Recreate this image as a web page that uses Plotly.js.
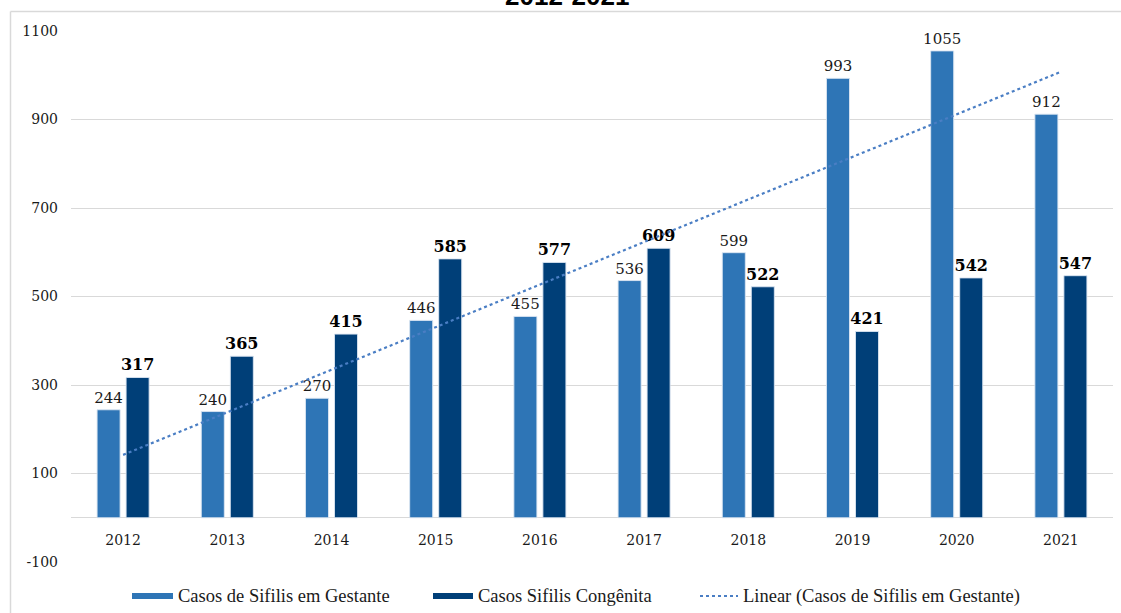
<!DOCTYPE html>
<html>
<head>
<meta charset="utf-8">
<script src="https://cdn.plot.ly/plotly-3.0.1.min.js"></script>
<style>
html,body{margin:0;padding:0;background:#fff;overflow:hidden;}
#chart{width:1121px;height:613px;}
</style>
</head>
<body>
<div id="chart"></div>
<script>
// ---- data ----
const years = ["2012","2013","2014","2015","2016","2017","2018","2019","2020","2021"];
const gestante = [244, 240, 270, 446, 455, 536, 599, 993, 1055, 912];
const congenita = [317, 365, 415, 585, 577, 609, 522, 421, 542, 547];
const seriesNames = ["Casos de Sifilis em Gestante", "Casos Sifilis Congênita", "Linear (Casos de Sifilis em Gestante)"];
const titleText = "2012-2021";
const yTicks = [-100, 100, 300, 500, 700, 900, 1100];

// Linear trendline (least squares) of the gestante series, as the chart's "Linear" trendline
const n = gestante.length;
const xs = gestante.map((_, i) => i + 1);
const mx = xs.reduce((a, b) => a + b, 0) / n;
const my = gestante.reduce((a, b) => a + b, 0) / n;
let sxy = 0, sxx = 0;
for (let i = 0; i < n; i++) { sxy += (xs[i] - mx) * (gestante[i] - my); sxx += (xs[i] - mx) ** 2; }
const slope = sxy / sxx, intercept = my - slope * mx;
const trend = xs.map(x => intercept + slope * x);

// ---- styles ----
const C_LIGHT = "#2E75B6", C_DARK = "#003F78", C_TREND = "#4A7EC4";
const SERIF = "DejaVu Serif, Georgia, serif";
const LEG = "Liberation Serif, Times New Roman, serif";

// pixel -> paper helpers (plot area: x 71..1113, y 31..562)
const L = 71, R = 8, T = 31, B = 51, W = 1121, H = 613;
const pw = W - L - R, ph = H - T - B;
const px = x => (x - L) / pw;
const py = y => (H - B - y) / ph;

const traces = [
  {
    type: "bar", x: years, y: gestante, name: seriesNames[0],
    marker: {color: C_LIGHT, line: {color: "rgba(220,230,242,0.9)", width: 1}},
    text: gestante.map(String), textposition: "outside", cliponaxis: false,
    constraintext: "none",
    textfont: {family: SERIF, size: 15, color: "#1a1a1a"},
    hoverinfo: "x+y"
  },
  {
    type: "bar", x: years, y: congenita, name: seriesNames[1],
    marker: {color: C_DARK, line: {color: "rgba(220,230,242,0.9)", width: 1}},
    text: congenita.map(String), textposition: "outside", cliponaxis: false,
    constraintext: "none",
    textfont: {family: SERIF, size: 16, color: "#000", weight: "bold"},
    hoverinfo: "x+y"
  },
  {
    type: "scatter", mode: "lines", x: years, y: trend, name: seriesNames[2],
    line: {color: C_TREND, width: 2.2, dash: "dot"},
    hoverinfo: "skip"
  }
];

const legY = 596;
const shapes = [
  // chart frame lines
  {type: "line", xref: "paper", yref: "paper", x0: px(10.5), x1: px(10.5), y0: py(11.5), y1: py(640), line: {color: "#d9d9d9", width: 1.5}},
  {type: "line", xref: "paper", yref: "paper", x0: px(10.5), x1: px(1130), y0: py(11.5), y1: py(11.5), line: {color: "#d9d9d9", width: 1.5}},
  // custom legend swatches
  {type: "rect", xref: "paper", yref: "paper", x0: px(132), x1: px(173), y0: py(legY + 3), y1: py(legY - 3), fillcolor: C_LIGHT, line: {width: 0}},
  {type: "rect", xref: "paper", yref: "paper", x0: px(433), x1: px(473), y0: py(legY + 3), y1: py(legY - 3), fillcolor: C_DARK, line: {width: 0}},
  {type: "line", xref: "paper", yref: "paper", x0: px(700), x1: px(738), y0: py(legY), y1: py(legY), line: {color: C_TREND, width: 2, dash: "dot"}}
];

const legFont = {family: LEG, size: 18.5, color: "#1a1a1a"};
const annotations = [
  {xref: "paper", yref: "paper", x: 0.5 + (567 - (L + pw / 2)) / pw, y: py(13.5), xanchor: "center", yanchor: "bottom",
   text: "<b>" + titleText + "</b>", showarrow: false, font: {family: "Liberation Sans, Arial, sans-serif", size: 26, color: "#000"}},
  {xref: "paper", yref: "paper", x: px(176), y: py(legY), xanchor: "left", yanchor: "middle", text: seriesNames[0], showarrow: false, font: legFont},
  {xref: "paper", yref: "paper", x: px(476), y: py(legY), xanchor: "left", yanchor: "middle", text: seriesNames[1], showarrow: false, font: legFont},
  {xref: "paper", yref: "paper", x: px(741), y: py(legY), xanchor: "left", yanchor: "middle", text: seriesNames[2], showarrow: false, font: legFont}
];

const layout = {
  width: W, height: H,
  margin: {l: L, r: R, t: T, b: B, pad: 0},
  paper_bgcolor: "#fff", plot_bgcolor: "#fff",
  showlegend: false,
  barmode: "group", bargap: 0.443, bargroupgap: 0.207,
  xaxis: {
    type: "category", anchor: "free", position: py(518),
    showgrid: false, showline: false, zeroline: false,
    ticks: "", ticklabelstandoff: 12,
    tickfont: {family: SERIF, size: 14, color: "#1a1a1a"}
  },
  yaxis: {
    range: [-100, 1100], tickvals: yTicks, ticktext: yTicks.map(String),
    showgrid: true, gridcolor: "#d9d9d9", gridwidth: 1,
    zeroline: true, zerolinecolor: "#d9d9d9", zerolinewidth: 1,
    showline: false, ticks: "", ticklabelstandoff: 12,
    tickfont: {family: SERIF, size: 14, color: "#1a1a1a"}
  },
  shapes: shapes,
  annotations: annotations,
  font: {family: SERIF}
};

Plotly.newPlot("chart", traces, layout, {displayModeBar: false, staticPlot: true});
</script>
</body>
</html>
